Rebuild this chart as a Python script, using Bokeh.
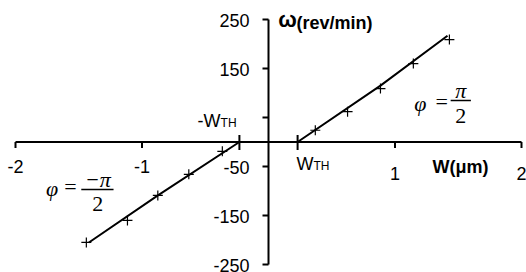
from bokeh.plotting import figure
from bokeh.models import Range1d
from bokeh.core.properties import value
from bokeh.embed import file_html
from bokeh.resources import INLINE

# ---- data ----
wth = 0.23
x_ticks = [-2, -1, 1, 2]
x_tick_labels = ["-2", "-1", "1", "2"]
y_ticks = [250, 150, 50, -50, -150, -250]
y_tick_labels = ["250", "150", "", "-50", "-150", "-250"]

pos_w = [0.37, 0.625, 0.885, 1.145, 1.43]
pos_omega = [24, 62, 109, 160, 209]
neg_w = [-0.365, -0.63, -0.875, -1.115, -1.44]
neg_omega = [-19, -66, -109, -160, -205]

pos_fit_w = [wth, 0.885, 1.415]
pos_fit_omega = [0, 115, 217]
neg_fit_w = [-wth, -0.88, -1.42]
neg_fit_omega = [0, -110, -205]

SANS = "Liberation Sans"
SERIF = "Liberation Serif"

W, H = 526, 272
X0, X1 = -2.1186, 2.0395
Y0, Y1 = -266.3, 288.8
px_x = W / (X1 - X0)   # pixels per x unit
px_y = H / (Y1 - Y0)   # pixels per y unit

p = figure(width=W, height=H, x_range=Range1d(X0, X1), y_range=Range1d(Y0, Y1),
           output_backend="svg", toolbar_location=None, min_border=0,
           x_axis_location=None, y_axis_location=None)
p.grid.visible = False
p.outline_line_color = None
p.background_fill_color = "white"

# ---- axes crossing at the origin ----
tick_len_x = 6 / px_x
tick_len_y = 6 / px_y
# axis lines
p.segment([min(x_ticks)], [0], [max(x_ticks)], [0], line_color="black", line_width=2)
p.segment([0], [min(y_ticks)], [0], [max(y_ticks)], line_color="black", line_width=2)
# x ticks (pointing down)
p.segment(x_ticks, [0] * len(x_ticks), x_ticks, [-tick_len_y] * len(x_ticks),
          line_color="black", line_width=2)
# threshold marks crossing the x axis
p.segment([-wth, wth], [7 / px_y] * 2, [-wth, wth], [-8 / px_y] * 2,
          line_color="black", line_width=2)
# y ticks (pointing left)
p.segment([0] * len(y_ticks), y_ticks, [-tick_len_x] * len(y_ticks), y_ticks,
          line_color="black", line_width=2)
# tick labels
p.text(x_ticks, [0] * len(x_ticks), text=x_tick_labels, text_font=value(SANS),
       text_font_size="18px", text_align="center", text_baseline="middle",
       y_offset=[24, 24, 31, 31], text_color="black")
p.text([0] * len(y_ticks), y_ticks, text=y_tick_labels, text_font=value(SANS),
       text_font_size="18px", text_align="right", text_baseline="middle",
       x_offset=-19, y_offset=1, text_color="black")

# ---- data ----
p.line(pos_fit_w, pos_fit_omega, line_color="black", line_width=2)
p.line(neg_fit_w, neg_fit_omega, line_color="black", line_width=2)
p.scatter(pos_w, pos_omega, marker="cross", size=10, line_color="black", line_width=1.2)
p.scatter(neg_w, neg_omega, marker="cross", size=10, line_color="black", line_width=1.2)


def txt(x, y, s, size, font=SANS, style="normal", align="center", baseline="middle"):
    p.text([x], [y], text=[s], text_font=value(font), text_font_size=size,
           text_font_style=style, text_align=align, text_baseline=baseline,
           text_color="black")


# axis titles
txt(0.150, 250, "ω", "22px", style="bold")
txt(0.221, 242, "(rev/min)", "18px", style="bold", align="left")
txt(1.518, -52, "W(μm)", "18px", style="bold")

# threshold labels
txt(-0.379, 42, "-W", "18px", align="right")
txt(-0.379, 38, "TH", "12px", align="left")
txt(0.221, -44, "W", "18px", align="left")
txt(0.356, -48, "TH", "12px", align="left")

# phase annotations (right)
txt(1.20, 79, "φ", "22px", font=SERIF, style="italic")
txt(1.37, 82, "=", "22px", font=SERIF)
txt(1.52, 105, "π", "22px", font=SERIF, style="italic")
p.segment([1.44], [84.7], [1.60], [84.7], line_color="black", line_width=1.5)
txt(1.52, 54, "2", "22px", font=SERIF)

# phase annotations (left)
txt(-1.71, -95, "φ", "22px", font=SERIF, style="italic")
txt(-1.565, -91, "=", "22px", font=SERIF)
txt(-1.35, -76.5, "−π", "22px", font=SERIF, style="italic")
p.segment([-1.48], [-97], [-1.225], [-97], line_color="black", line_width=1.5)
txt(-1.35, -125.5, "2", "22px", font=SERIF)

open("out.html", "w").write(file_html(p, INLINE))
